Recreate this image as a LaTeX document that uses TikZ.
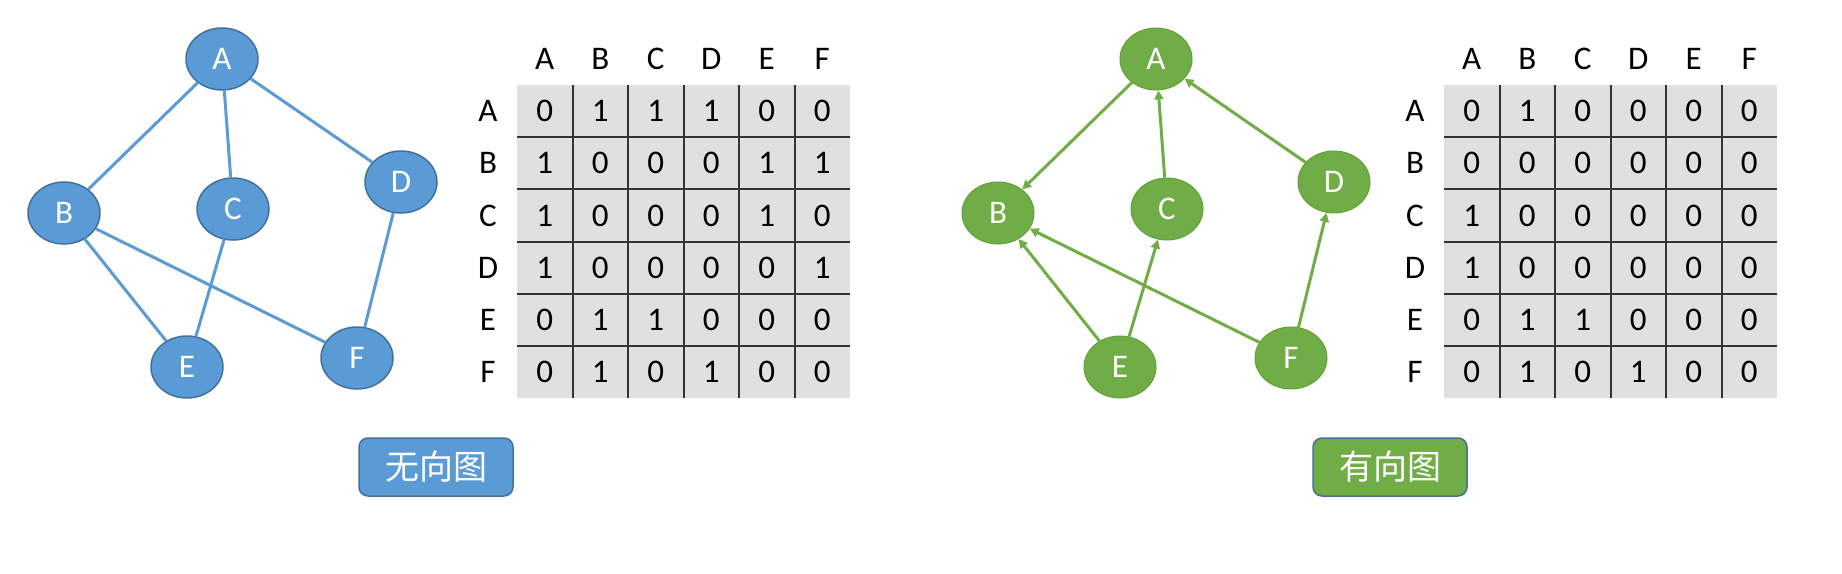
\documentclass[tikz,border=0pt]{standalone}
\usepackage{fontspec}
\setmainfont{Carlito}
\newfontfamily\cjk{Noto Sans CJK SC}
\usetikzlibrary{shapes.geometric,arrows.meta}
\definecolor{nodeblue}{HTML}{5B9BD5}
\definecolor{rimblue}{HTML}{41719C}
\definecolor{nodegreen}{HTML}{70AD47}
\definecolor{rimgreen}{HTML}{62A03A}
\definecolor{cellgray}{HTML}{E0E0E0}
\definecolor{gridline}{HTML}{333333}
\tikzset{
  vtx/.style={ellipse, minimum width=72pt, minimum height=62pt, inner sep=0pt,
    text=white, font=\fontsize{33}{33}\selectfont},
  uvtx/.style={vtx, fill=nodeblue, draw=rimblue, line width=1.5pt},
  dvtx/.style={vtx, fill=nodegreen, draw=rimgreen, line width=1pt},
  uedge/.style={draw=nodeblue, line width=3pt},
  dedge/.style={draw=nodegreen, line width=3pt, -{Triangle[length=9pt,width=9pt]}},
  lab/.style={inner sep=0pt, font=\fontsize{33}{33}\selectfont},
  grid/.style={draw=gridline, line width=2pt},
  tag/.style={rounded corners=9pt, draw=rimblue, line width=1.5pt, minimum width=154pt,
    minimum height=58pt, text=white, font=\cjk\fontsize{34}{34}\selectfont}
}
\begin{document}
\begin{tikzpicture}[x=1pt,y=-1pt]
  \useasboundingbox (0,0) rectangle (1842,573);

  % undirected graph
  \node[uvtx] (uA) at (222,59) {A};
  \node[uvtx] (uB) at (64,213) {B};
  \node[uvtx] (uC) at (233,209) {C};
  \node[uvtx] (uD) at (401,182) {D};
  \node[uvtx] (uE) at (187,367) {E};
  \node[uvtx] (uF) at (357,358) {F};

  \draw[uedge] (uA) -- (uB);
  \draw[uedge] (uA) -- (uC);
  \draw[uedge] (uA) -- (uD);
  \draw[uedge] (uB) -- (uE);
  \draw[uedge] (uB) -- (uF);
  \draw[uedge] (uC) -- (uE);
  \draw[uedge] (uD) -- (uF);

  \node[tag, fill=nodeblue] (utag) at (436,467) {无向图};

  % undirected matrix
  \begin{scope}[shift={(517,85)}]
    \fill[cellgray] (0,0) rectangle (333,313);
    \foreach \k in {1,...,5} {
      \draw[grid] (\k*55.5,0) -- (\k*55.5,313);
      \draw[grid] (0,\k*52.17) -- (333,\k*52.17);
    }
    \foreach \h [count=\j] in {A,...,F}
      \node[lab] (uc\h) at (\j*55.5-27.75,-26) {\h};
    \foreach \h/\row [count=\i] in {A/{0,1,1,1,0,0},B/{1,0,0,0,1,1},C/{1,0,0,0,1,0},
        D/{1,0,0,0,0,1},E/{0,1,1,0,0,0},F/{0,1,0,1,0,0}} {
      \node[lab] (ur\h) at (-29,\i*52.17-26) {\h};
      \foreach \v [count=\j] in \row
        \node[lab] (u\h\j) at (\j*55.5-27.75,\i*52.17-26) {\v};
    }
  \end{scope}

  % directed graph
  \node[dvtx] (dA) at (1156,59) {A};
  \node[dvtx] (dB) at (998,213) {B};
  \node[dvtx] (dC) at (1167,209) {C};
  \node[dvtx] (dD) at (1334,182) {D};
  \node[dvtx] (dE) at (1120,367) {E};
  \node[dvtx] (dF) at (1291,358) {F};

  \draw[dedge] (dA) -- (dB);
  \draw[dedge] (dC) -- (dA);
  \draw[dedge] (dD) -- (dA);
  \draw[dedge] (dE) -- (dB);
  \draw[dedge] (dF) -- (dB);
  \draw[dedge] (dE) -- (dC);
  \draw[dedge] (dF) -- (dD);

  \node[tag, fill=nodegreen] (dtag) at (1390,467) {有向图};

  % directed matrix
  \begin{scope}[shift={(1444,85)}]
    \fill[cellgray] (0,0) rectangle (333,313);
    \foreach \k in {1,...,5} {
      \draw[grid] (\k*55.5,0) -- (\k*55.5,313);
      \draw[grid] (0,\k*52.17) -- (333,\k*52.17);
    }
    \foreach \h [count=\j] in {A,...,F}
      \node[lab] (dc\h) at (\j*55.5-27.75,-26) {\h};
    \foreach \h/\row [count=\i] in {A/{0,1,0,0,0,0},B/{0,0,0,0,0,0},C/{1,0,0,0,0,0},
        D/{1,0,0,0,0,0},E/{0,1,1,0,0,0},F/{0,1,0,1,0,0}} {
      \node[lab] (dr\h) at (-29,\i*52.17-26) {\h};
      \foreach \v [count=\j] in \row
        \node[lab] (d\h\j) at (\j*55.5-27.75,\i*52.17-26) {\v};
    }
  \end{scope}
\end{tikzpicture}
\end{document}
